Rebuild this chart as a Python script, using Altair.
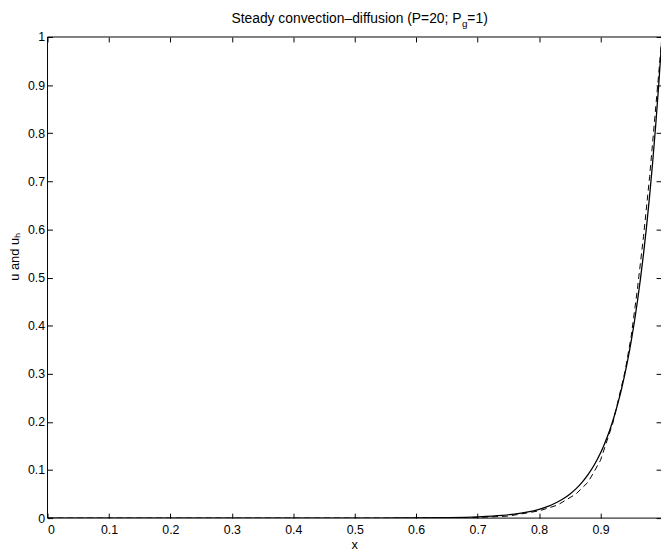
import altair as alt
import pandas as pd

# exact solution u (solid)
x_u = [0, 0.1, 0.2, 0.3, 0.4, 0.5, 0.55, 0.6, 0.65, 0.7, 0.74, 0.76, 0.78, 0.8, 0.81,
       0.82, 0.83, 0.84, 0.85, 0.86, 0.87, 0.88, 0.89, 0.9, 0.905, 0.91, 0.915, 0.92,
       0.925, 0.93, 0.935, 0.94, 0.945, 0.95, 0.955, 0.96, 0.965, 0.97, 0.975, 0.98,
       0.985, 0.99, 0.995, 1.0]
u_vals = [0, 0, 0, 0, 0, 0.00005, 0.00012, 0.00034, 0.0009, 0.0025, 0.0055, 0.0082,
          0.0123, 0.0183, 0.0224, 0.0273, 0.0334, 0.0408, 0.0498, 0.0608, 0.0743,
          0.0907, 0.1108, 0.1353, 0.1496, 0.1653, 0.1827, 0.2019, 0.2231, 0.2466,
          0.2725, 0.3012, 0.3329, 0.3679, 0.4066, 0.4493, 0.4966, 0.5488, 0.6065,
          0.6703, 0.7408, 0.8187, 0.9048, 1.0]

# numerical solution u_h (dashed)
x_h = [0, 0.5, 0.6, 0.7, 0.75, 0.8, 0.83, 0.86, 0.88, 0.9, 0.92, 0.94, 0.95, 0.96,
       0.97, 0.98, 0.99, 1.0]
uh_vals = [0, 0, 0.0001, 0.0012, 0.0042, 0.015, 0.027, 0.05, 0.075, 0.12, 0.197,
           0.305, 0.378, 0.475, 0.585, 0.71, 0.855, 1.0]

x_ticks = [0, 0.1, 0.2, 0.3, 0.4, 0.5, 0.6, 0.7, 0.8, 0.9]
y_ticks = [0, 0.1, 0.2, 0.3, 0.4, 0.5, 0.6, 0.7, 0.8, 0.9, 1.0]

title_main = "Steady convection\u2013diffusion (P=20; P"
title_sub = "g"
title_end = "=1)"
y_title = "u and u\u2095"

W, H = 621, 487
FONT = "Liberation Sans"

df_u = pd.DataFrame({"x": x_u, "u": u_vals})
df_h = pd.DataFrame({"x": x_h, "u": uh_vals})
one = pd.DataFrame({"a": [0]})

xs = alt.Scale(domain=[0, 0.9985], nice=False, zero=False)
ys = alt.Scale(domain=[0, 1], nice=False, zero=False)

common = dict(domain=False, grid=False, tickSize=5, tickColor="black", tickWidth=1,
              offset=-5, labelFont=FONT, labelFontSize=12.5, labelColor="black",
              titleFont=FONT, titleFontSize=13, titleColor="black",
              titleFontWeight="normal")

solid = alt.Chart(df_u).mark_line(color="black", strokeWidth=1.3, clip=True,
                                  interpolate="monotone").encode(
    x=alt.X("x:Q", scale=xs,
            axis=alt.Axis(orient="bottom", values=x_ticks, format="~g", labelPadding=6,
                          title="x", titlePadding=2, **common)),
    y=alt.Y("u:Q", scale=ys,
            axis=alt.Axis(orient="left", values=y_ticks, format="~g", labelPadding=3,
                          title=y_title, titlePadding=6, titleY=222, **common)),
)

dashed = alt.Chart(df_h).mark_line(color="black", strokeWidth=1, strokeDash=[6, 4],
                                   clip=True).encode(
    x=alt.X("x:Q", scale=xs,
            axis=alt.Axis(orient="top", values=x_ticks, labels=False, title=None, **common)),
    y=alt.Y("u:Q", scale=ys,
            axis=alt.Axis(orient="right", values=y_ticks, labels=False, title=None, **common)),
)

top_rule = alt.Chart(one).mark_rule(color="black", strokeWidth=1).encode(
    x=alt.value(0), x2=alt.value(W), y=alt.value(0))
bottom_rule = alt.Chart(one).mark_rule(color="black", strokeWidth=1).encode(
    x=alt.value(0), x2=alt.value(W), y=alt.value(H))
left_rule = alt.Chart(one).mark_rule(color="black", strokeWidth=1).encode(
    x=alt.value(0), y=alt.value(0), y2=alt.value(H))

t1 = alt.Chart(one).mark_text(font=FONT, fontSize=14, color="black", align="right",
                              baseline="alphabetic").encode(
    x=alt.value(419), y=alt.value(-14), text=alt.value(title_main))
t2 = alt.Chart(one).mark_text(font=FONT, fontSize=10, color="black", align="left",
                              baseline="alphabetic").encode(
    x=alt.value(419.5), y=alt.value(-10), text=alt.value(title_sub))
t3 = alt.Chart(one).mark_text(font=FONT, fontSize=14, color="black", align="left",
                              baseline="alphabetic").encode(
    x=alt.value(425), y=alt.value(-14), text=alt.value(title_end))

chart = alt.layer(solid, dashed, top_rule, bottom_rule, left_rule, t1, t2, t3).resolve_axis(
    x="independent", y="independent"
).properties(
    width=W, height=H,
    autosize=alt.AutoSizeParams(type="none"),
    padding={"left": 40, "top": 26, "right": 0, "bottom": 34},
    background="white",
).configure_view(stroke=None)

chart.save("out.html", embed_options={"renderer": "svg", "actions": False})
